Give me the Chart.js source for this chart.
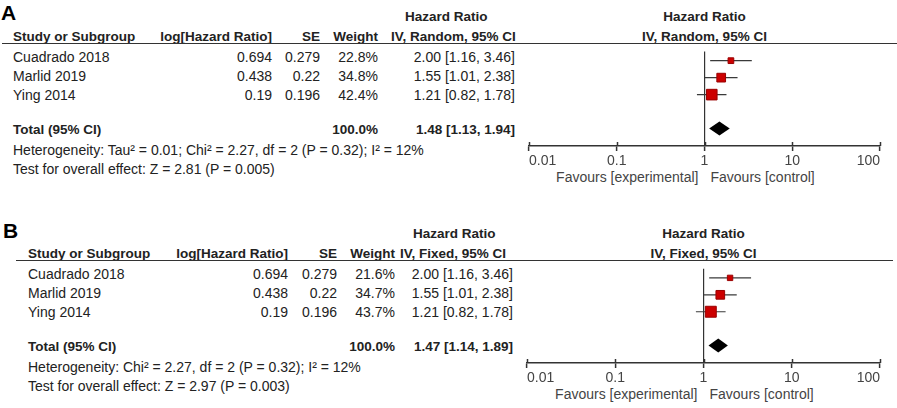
<!DOCTYPE html>
<html><head><meta charset="utf-8">
<script src="https://cdn.jsdelivr.net/npm/chart.js@4.4.0/dist/chart.umd.min.js"></script>
<style>
html,body{margin:0;padding:0;background:#fff;}
body{width:897px;height:408px;overflow:hidden;position:relative;font-family:"Liberation Sans",Arial,sans-serif;}
.t{position:absolute;white-space:nowrap;font-size:14px;line-height:16px;height:16px;color:#222;}
.b{font-weight:bold;font-size:13.5px;}
.r{transform:translateX(-100%);}
.c{transform:translateX(-50%);}
.rule{position:absolute;height:0;border-top:1.5px solid #333;}
.letter{position:absolute;font-weight:bold;font-size:21px;line-height:22px;color:#000;}
canvas{position:absolute;}
</style></head><body>
<script>
// ---------- data ----------
const studies = ['Cuadrado 2018', 'Marlid 2019', 'Ying 2014'];
const logHR = ['0.694', '0.438', '0.19'];
const seVals = ['0.279', '0.22', '0.196'];
const hr = [2.00, 1.55, 1.21];
const ciLow = [1.16, 1.01, 0.82];
const ciHigh = [3.46, 2.38, 1.78];
const weightsRandom = [22.8, 34.8, 42.4];
const weightsFixed = [21.6, 34.7, 43.7];
const totalRandom = [1.48, 1.13, 1.94];   // estimate, low, high
const totalFixed = [1.47, 1.14, 1.89];
const hetRandom = 'Heterogeneity: Tau\u00B2 = 0.01; Chi\u00B2 = 2.27, df = 2 (P = 0.32); I\u00B2 = 12%';
const hetFixed = 'Heterogeneity: Chi\u00B2 = 2.27, df = 2 (P = 0.32); I\u00B2 = 12%';
const testRandom = 'Test for overall effect: Z = 2.81 (P = 0.005)';
const testFixed = 'Test for overall effect: Z = 2.97 (P = 0.003)';
const tickValues = [0.01, 0.1, 1, 10, 100];
const tickLabels = ['0.01', '0.1', '1', '10', '100'];

// ---------- layout ----------
const panels = [
  {letter:'A', method:'IV, Random, 95% CI', weights:weightsRandom, total:totalRandom, het:hetRandom, test:testRandom,
   y0:0, letterX:1, letterY:2, studyX:13, logR:272, seR:320, wR:378, ciL:391, ciR:515, hrHeadL:405,
   ruleL:2, ruleR:897, plotL:529, plotR:880},
  {letter:'B', method:'IV, Fixed, 95% CI', weights:weightsFixed, total:totalFixed, het:hetFixed, test:testFixed,
   y0:217, letterX:3, letterY:3, studyX:28, logR:288, seR:337, wR:395, ciL:400, ciR:513, hrHeadL:413,
   ruleL:16, ruleR:893, plotL:527, plotR:880}
];

function txt(s, x, cy, cls){
  const d = document.createElement('div');
  d.className = 't ' + (cls||'');
  d.textContent = s;
  d.style.left = x + 'px';
  d.style.top = (cy - 8) + 'px';
  document.body.appendChild(d);
  return d;
}

panels.forEach(p => {
  const Y = v => p.y0 + v;
  const L = document.createElement('div');
  L.className = 'letter'; L.textContent = p.letter;
  L.style.left = p.letterX + 'px'; L.style.top = Y(p.letterY) + 'px';
  document.body.appendChild(L);

  const mid = (p.plotL + p.plotR) / 2;
  txt('Hazard Ratio', p.hrHeadL, Y(17), 'b');
  txt('Hazard Ratio', mid, Y(17), 'b c');
  txt('Study or Subgroup', p.studyX, Y(37), 'b');
  txt('log[Hazard Ratio]', p.logR, Y(37), 'b r');
  txt('SE', p.seR, Y(37), 'b r');
  txt('Weight', p.wR, Y(37), 'b r');
  txt(p.method, p.ciL, Y(37), 'b');
  txt(p.method, mid, Y(37), 'b c');

  const rule = document.createElement('div');
  rule.className = 'rule';
  rule.style.left = p.ruleL + 'px'; rule.style.width = (p.ruleR - p.ruleL) + 'px';
  rule.style.top = Y(43) + 'px';
  document.body.appendChild(rule);

  studies.forEach((s, i) => {
    const cy = Y(57 + 19 * i);
    txt(s, p.studyX, cy);
    txt(logHR[i], p.logR, cy, 'r');
    txt(seVals[i], p.seR, cy, 'r');
    txt(p.weights[i].toFixed(1) + '%', p.wR, cy, 'r');
    txt(hr[i].toFixed(2) + ' [' + ciLow[i].toFixed(2) + ', ' + ciHigh[i].toFixed(2) + ']', p.ciR, cy, 'r');
  });
  const tw = p.weights.reduce((a, b) => a + b, 0);
  txt('Total (95% CI)', p.studyX, Y(130), 'b');
  txt(Math.round(tw).toFixed(1) + '%', p.wR, Y(130), 'b r');
  txt(p.total[0].toFixed(2) + ' [' + p.total[1].toFixed(2) + ', ' + p.total[2].toFixed(2) + ']', p.ciR, Y(130), 'b r');
  txt(p.het, p.studyX, Y(150));
  txt(p.test, p.studyX, Y(169));

  const fl = txt('Favours [experimental]', mid - 6, Y(177), 'r'); fl.style.color = '#444';
  const fr = txt('Favours [control]', mid + 6, Y(177)); fr.style.color = '#444';

  // chart canvas
  const cvLeft = 500, cvTop = Y(43), cvW = 397, cvH = 130;
  const cv = document.createElement('canvas');
  cv.width = cvW; cv.height = cvH;
  cv.style.left = cvLeft + 'px'; cv.style.top = cvTop + 'px';
  cv.style.width = cvW + 'px'; cv.style.height = cvH + 'px';
  document.body.appendChild(cv);

  const rowPx = 18.5, firstRow = 10, plotH = 103;
  const nRows = studies.length + 1;   // total row index
  const datasets = [{
    type:'scatter',
    data: hr.map((v, i) => ({x:v, y:i})),
    pointStyle:'rect',
    pointRadius: p.weights.map(w => w * 0.177),
    pointHoverRadius: p.weights.map(w => w * 0.177),
    backgroundColor:'#cc0000', borderColor:'#9a0000', borderWidth:1, order:0
  }];
  studies.forEach((s, i) => datasets.push({
    type:'line', data:[{x:ciLow[i], y:i}, {x:ciHigh[i], y:i}],
    borderColor:'#3a3a3a', borderWidth:1.2, pointRadius:0, order:1
  }));

  const forest = {
    id:'forest' + p.letter,
    afterDatasetsDraw(chart){
      const {ctx, scales:{x, y}} = chart;
      const yy = y.getPixelForValue(nRows);
      const half = 7;
      ctx.save();
      ctx.beginPath();
      ctx.moveTo(x.getPixelForValue(p.total[1]), yy);
      ctx.lineTo(x.getPixelForValue(p.total[0]), yy - half);
      ctx.lineTo(x.getPixelForValue(p.total[2]), yy);
      ctx.lineTo(x.getPixelForValue(p.total[0]), yy + half);
      ctx.closePath();
      ctx.fillStyle = '#000';
      ctx.fill();
      ctx.restore();
    },
    afterDraw(chart){
      const {ctx, scales:{x}, chartArea} = chart;
      ctx.save();
      ctx.strokeStyle = '#333'; ctx.lineWidth = 1.5;
      x.ticks.forEach(t => {
        const px = Math.round(x.getPixelForValue(t.value)) + 0.5;
        ctx.beginPath(); ctx.moveTo(px, chartArea.bottom - 4); ctx.lineTo(px, chartArea.bottom); ctx.stroke();
      });
      ctx.restore();
    }
  };

  new Chart(cv, {
    type:'scatter',
    data:{datasets},
    plugins:[forest],
    options:{
      responsive:false, animation:false, events:[],
      layout:{padding:{left:p.plotL - cvLeft, right:(cvLeft + cvW) - p.plotR, top:0, bottom:0}},
      plugins:{legend:{display:false}, tooltip:{enabled:false}},
      scales:{
        x:{
          type:'logarithmic', min:0.01, max:100, position:'bottom',
          afterBuildTicks: s => { s.ticks = tickValues.map(v => ({value:v})); },
          afterFit: s => { s.height = cvH - plotH; },
          grid:{drawOnChartArea:true, color: c => (c.tick && c.tick.value === 1) ? '#333' : 'rgba(0,0,0,0)',
                lineWidth:1.2, tickColor:'#333', tickLength:5, tickWidth:1.5},
          border:{display:true, color:'#333', width:1.5},
          ticks:{align:'inner', autoSkip:false, maxRotation:0, color:'#444', padding:2,
                 font:{family:'"Liberation Sans", Arial, sans-serif', size:14},
                 callback:(v, i) => tickLabels[i]}
        },
        y:{type:'linear', display:false, reverse:true,
           min:-firstRow / rowPx, max:(plotH - firstRow) / rowPx}
      }
    }
  });
});
</script>
</body></html>
